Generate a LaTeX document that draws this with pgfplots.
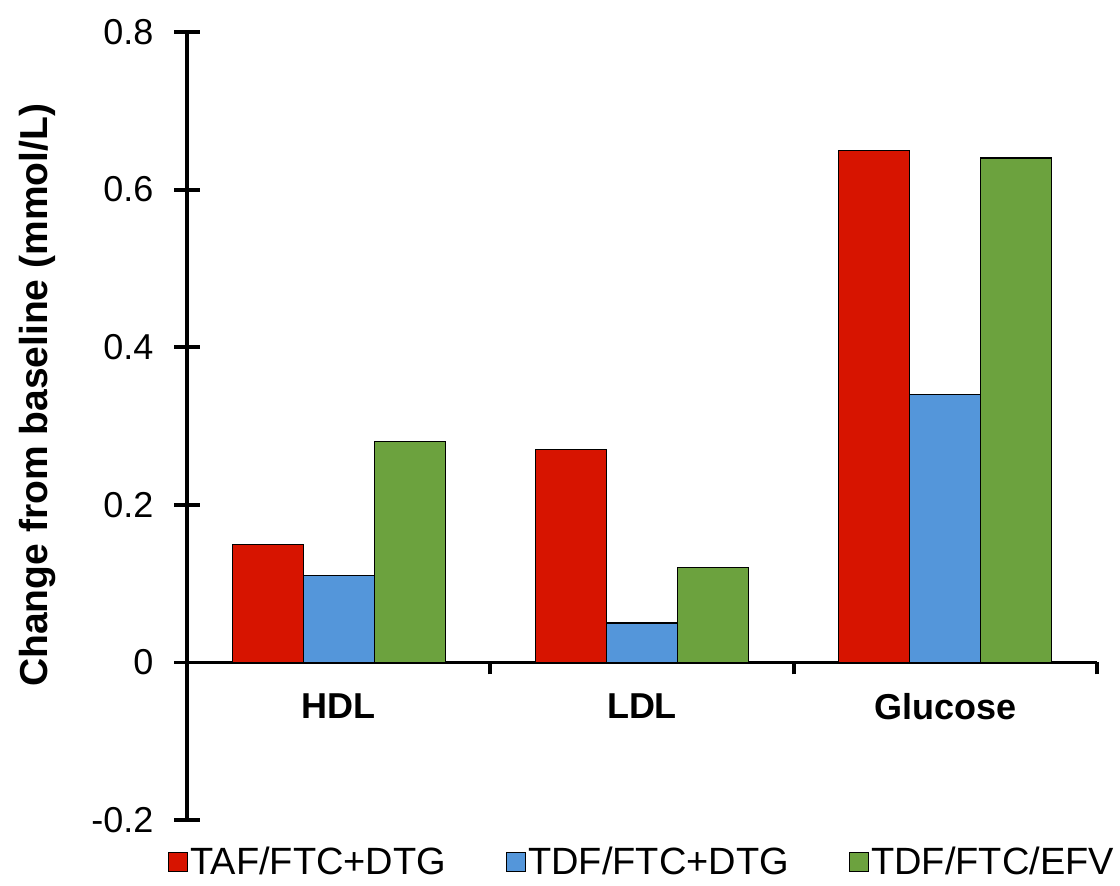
\documentclass[border=0pt]{standalone}
\usepackage{fontspec}
\setmainfont{Liberation Sans}
\usepackage{pgfplots}
\pgfplotsset{compat=1.18}
\definecolor{cred}{RGB}{215,20,0}
\definecolor{cblue}{RGB}{84,150,218}
\definecolor{cgreen}{RGB}{108,162,62}
\begin{document}
\begin{tikzpicture}
\useasboundingbox (-93.5pt,-32.5pt) rectangle (466.5pt,410pt);
\begin{axis}[
 scale only axis, width=455pt, height=394pt,
 xmin=-0.5, xmax=2.5, ymin=-0.2, ymax=0.8,
 enlargelimits=false,
 axis x line=middle, axis y line=left,
 axis line style={line width=1.9pt, -},
 ybar=0pt, bar width=35.5pt,
 xtick={0,1,2}, xticklabels={HDL,LDL,Glucose},
 major x tick style={draw=none},
 minor xtick={0.5,1.5,2.5},
 minor x tick style={line width=1.9pt, black},
 xtick align=outside,
 minor tick length=6pt,
 ytick={-0.2,0,0.2,0.4,0.6,0.8},
 yticklabels={-0.2,0,0.2,0.4,0.6,0.8},
 ytick align=center,
 major tick length=12.5pt,
 major y tick style={line width=1.9pt, black},
 xticklabel style={font=\fontsize{18}{20}\selectfont\bfseries, yshift=0.5pt},
 yticklabel style={font=\fontsize{18}{20}\selectfont, xshift=-7pt},
 ylabel={Change from baseline (mmol/L)},
 ylabel style={font=\fontsize{19.5}{21}\selectfont\bfseries, at={(axis description cs:-0.164,0.539)}, anchor=center},
 legend columns=3,
 legend style={draw=none, fill=none, at={(axis description cs:0.5,0)}, anchor=center, yshift=-21pt, font=\fontsize{19}{21}\selectfont, nodes={inner sep=1pt}, /tikz/every even column/.append style={column sep=29pt}},
 legend image code/.code={\draw[#1] (0pt,-4.75pt) rectangle (9.5pt,4.75pt);},
]
\addplot[fill=cred, draw=black, line width=0.6pt] coordinates {(0,0.15) (1,0.27) (2,0.65)};
\addplot[fill=cblue, draw=black, line width=0.6pt] coordinates {(0,0.11) (1,0.05) (2,0.34)};
\addplot[fill=cgreen, draw=black, line width=0.6pt] coordinates {(0,0.28) (1,0.12) (2,0.64)};
\legend{TAF/FTC+DTG, TDF/FTC+DTG, TDF/FTC/EFV}
\end{axis}
\end{tikzpicture}
\end{document}
